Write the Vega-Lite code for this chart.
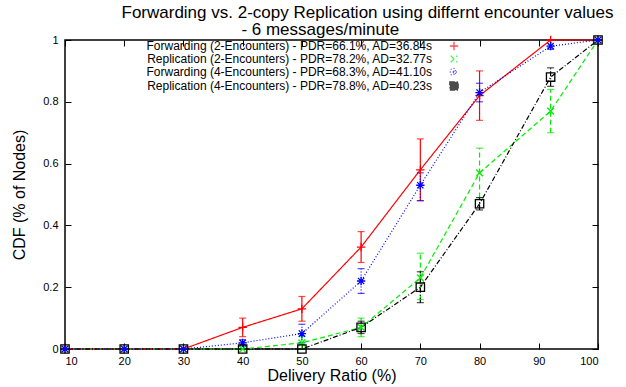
{
  "$schema": "https://vega.github.io/schema/vega-lite/v6.json",
  "width": 533,
  "height": 309,
  "autosize": "none",
  "padding": {"left": 65, "top": 40, "right": 28, "bottom": 38},
  "background": "white",
  "config": {
    "font": "Liberation Sans",
    "view": {"stroke": "black", "strokeWidth": 1.5},
    "axis": {"grid": false, "domain": false, "tickColor": "black", "tickSize": -6, "labelColor": "black", "titleColor": "black", "labelFont": "Liberation Sans", "titleFont": "Liberation Sans", "labelFontSize": 11, "titleFontSize": 16, "titleFontWeight": "normal"}
  },
  "title": {"text": ["Forwarding vs. 2-copy Replication using differnt encounter values", "- 6 messages/minute\u00a0\u00a0\u00a0\u00a0\u00a0\u00a0\u00a0\u00a0\u00a0\u00a0\u00a0\u00a0\u00a0\u00a0\u00a0\u00a0\u00a0\u00a0\u00a0\u00a0\u200b"], "fontSize": 17, "fontWeight": "normal", "font": "Liberation Sans", "lineHeight": 17, "offset": 5, "dx": 36, "dy": 11, "color": "black"},
  "data": {"values": [
    {"series": "Forwarding (2-Encounters) - PDR=66.1%, AD=36.84s", "x": 10, "y": 0, "lo": 0, "hi": 0},
    {"series": "Forwarding (2-Encounters) - PDR=66.1%, AD=36.84s", "x": 20, "y": 0, "lo": 0, "hi": 0},
    {"series": "Forwarding (2-Encounters) - PDR=66.1%, AD=36.84s", "x": 30, "y": 0, "lo": 0, "hi": 0},
    {"series": "Forwarding (2-Encounters) - PDR=66.1%, AD=36.84s", "x": 40, "y": 0.07, "lo": 0.04, "hi": 0.10},
    {"series": "Forwarding (2-Encounters) - PDR=66.1%, AD=36.84s", "x": 50, "y": 0.13, "lo": 0.09, "hi": 0.17},
    {"series": "Forwarding (2-Encounters) - PDR=66.1%, AD=36.84s", "x": 60, "y": 0.33, "lo": 0.28, "hi": 0.38},
    {"series": "Forwarding (2-Encounters) - PDR=66.1%, AD=36.84s", "x": 70, "y": 0.58, "lo": 0.48, "hi": 0.68},
    {"series": "Forwarding (2-Encounters) - PDR=66.1%, AD=36.84s", "x": 80, "y": 0.82, "lo": 0.74, "hi": 0.90},
    {"series": "Forwarding (2-Encounters) - PDR=66.1%, AD=36.84s", "x": 92, "y": 1.0, "lo": 1.0, "hi": 1.0},
    {"series": "Forwarding (2-Encounters) - PDR=66.1%, AD=36.84s", "x": 100, "y": 1.0, "lo": 1.0, "hi": 1.0},
    {"series": "Replication (2-Encounters) - PDR=78.2%, AD=32.77s", "x": 10, "y": 0, "lo": 0, "hi": 0},
    {"series": "Replication (2-Encounters) - PDR=78.2%, AD=32.77s", "x": 20, "y": 0, "lo": 0, "hi": 0},
    {"series": "Replication (2-Encounters) - PDR=78.2%, AD=32.77s", "x": 30, "y": 0, "lo": 0, "hi": 0},
    {"series": "Replication (2-Encounters) - PDR=78.2%, AD=32.77s", "x": 40, "y": 0, "lo": 0, "hi": 0},
    {"series": "Replication (2-Encounters) - PDR=78.2%, AD=32.77s", "x": 50, "y": 0.02, "lo": 0.0, "hi": 0.04},
    {"series": "Replication (2-Encounters) - PDR=78.2%, AD=32.77s", "x": 60, "y": 0.07, "lo": 0.04, "hi": 0.10},
    {"series": "Replication (2-Encounters) - PDR=78.2%, AD=32.77s", "x": 70, "y": 0.23, "lo": 0.16, "hi": 0.31},
    {"series": "Replication (2-Encounters) - PDR=78.2%, AD=32.77s", "x": 80, "y": 0.57, "lo": 0.49, "hi": 0.65},
    {"series": "Replication (2-Encounters) - PDR=78.2%, AD=32.77s", "x": 92, "y": 0.77, "lo": 0.70, "hi": 0.84},
    {"series": "Replication (2-Encounters) - PDR=78.2%, AD=32.77s", "x": 100, "y": 1.0, "lo": 1.0, "hi": 1.0},
    {"series": "Forwarding (4-Encounters) - PDR=68.3%, AD=41.10s", "x": 10, "y": 0, "lo": 0, "hi": 0},
    {"series": "Forwarding (4-Encounters) - PDR=68.3%, AD=41.10s", "x": 20, "y": 0, "lo": 0, "hi": 0},
    {"series": "Forwarding (4-Encounters) - PDR=68.3%, AD=41.10s", "x": 30, "y": 0, "lo": 0, "hi": 0},
    {"series": "Forwarding (4-Encounters) - PDR=68.3%, AD=41.10s", "x": 40, "y": 0.02, "lo": 0.01, "hi": 0.03},
    {"series": "Forwarding (4-Encounters) - PDR=68.3%, AD=41.10s", "x": 50, "y": 0.05, "lo": 0.02, "hi": 0.08},
    {"series": "Forwarding (4-Encounters) - PDR=68.3%, AD=41.10s", "x": 60, "y": 0.22, "lo": 0.18, "hi": 0.26},
    {"series": "Forwarding (4-Encounters) - PDR=68.3%, AD=41.10s", "x": 70, "y": 0.53, "lo": 0.48, "hi": 0.57},
    {"series": "Forwarding (4-Encounters) - PDR=68.3%, AD=41.10s", "x": 80, "y": 0.83, "lo": 0.80, "hi": 0.86},
    {"series": "Forwarding (4-Encounters) - PDR=68.3%, AD=41.10s", "x": 92, "y": 0.98, "lo": 0.97, "hi": 1.0},
    {"series": "Forwarding (4-Encounters) - PDR=68.3%, AD=41.10s", "x": 100, "y": 1.0, "lo": 1.0, "hi": 1.0},
    {"series": "Replication (4-Encounters) - PDR=78.8%, AD=40.23s", "x": 10, "y": 0, "lo": 0, "hi": 0},
    {"series": "Replication (4-Encounters) - PDR=78.8%, AD=40.23s", "x": 20, "y": 0, "lo": 0, "hi": 0},
    {"series": "Replication (4-Encounters) - PDR=78.8%, AD=40.23s", "x": 30, "y": 0, "lo": 0, "hi": 0},
    {"series": "Replication (4-Encounters) - PDR=78.8%, AD=40.23s", "x": 40, "y": 0, "lo": 0, "hi": 0},
    {"series": "Replication (4-Encounters) - PDR=78.8%, AD=40.23s", "x": 50, "y": 0, "lo": 0, "hi": 0},
    {"series": "Replication (4-Encounters) - PDR=78.8%, AD=40.23s", "x": 60, "y": 0.07, "lo": 0.05, "hi": 0.09},
    {"series": "Replication (4-Encounters) - PDR=78.8%, AD=40.23s", "x": 70, "y": 0.20, "lo": 0.15, "hi": 0.25},
    {"series": "Replication (4-Encounters) - PDR=78.8%, AD=40.23s", "x": 80, "y": 0.47, "lo": 0.45, "hi": 0.49},
    {"series": "Replication (4-Encounters) - PDR=78.8%, AD=40.23s", "x": 92, "y": 0.88, "lo": 0.85, "hi": 0.91},
    {"series": "Replication (4-Encounters) - PDR=78.8%, AD=40.23s", "x": 100, "y": 1.0, "lo": 1.0, "hi": 1.0}
  ]},
  "layer": [
    {
      "mark": {"type": "line", "strokeWidth": 1.2},
      "encoding": {
        "x": {"field": "x", "type": "quantitative", "scale": {"domain": [10, 100], "nice": false}, "axis": {"values": [10, 20, 30, 40, 50, 60, 70, 80, 90, 100], "title": "Delivery Ratio (%)", "titlePadding": 1, "labelPadding": 12}},
        "y": {"field": "y", "type": "quantitative", "scale": {"domain": [0, 1], "nice": false}, "axis": {"values": [0, 0.2, 0.4, 0.6, 0.8, 1], "format": "~g", "title": "CDF (% of Nodes)", "titlePadding": 15, "labelPadding": 13}},
        "color": {"field": "series", "type": "nominal", "scale": {"domain": ["Forwarding (2-Encounters) - PDR=66.1%, AD=36.84s", "Replication (2-Encounters) - PDR=78.2%, AD=32.77s", "Forwarding (4-Encounters) - PDR=68.3%, AD=41.10s", "Replication (4-Encounters) - PDR=78.8%, AD=40.23s"], "range": ["#ff0000", "#00ee00", "#0000ff", "#000000"]},
          "legend": {"title": null, "orient": "none", "legendX": 383, "legendY": 0, "padding": 0, "symbolSize": 70, "symbolStrokeWidth": 1.3, "labelAlign": "right", "labelOffset": -28, "labelFontSize": 12, "labelFont": "Liberation Sans", "labelColor": "black", "labelLimit": 400, "rowPadding": 0}},
        "strokeDash": {"field": "series", "type": "nominal", "scale": {"domain": ["Forwarding (2-Encounters) - PDR=66.1%, AD=36.84s", "Replication (2-Encounters) - PDR=78.2%, AD=32.77s", "Forwarding (4-Encounters) - PDR=68.3%, AD=41.10s", "Replication (4-Encounters) - PDR=78.8%, AD=40.23s"], "range": [[1, 0], [5, 3], [1, 2], [5, 2, 1, 2]]}, "legend": null}
      }
    },
    {
      "mark": {"type": "rule", "strokeWidth": 1.2},
      "encoding": {
        "x": {"field": "x", "type": "quantitative", "axis": null},
        "y": {"field": "lo", "type": "quantitative", "axis": null},
        "y2": {"field": "hi"},
        "color": {"field": "series", "type": "nominal"},
        "strokeDash": {"field": "series", "type": "nominal", "legend": null}
      }
    },
    {
      "mark": {"type": "tick", "orient": "horizontal", "size": 7, "thickness": 1.2},
      "encoding": {
        "x": {"field": "x", "type": "quantitative", "axis": null},
        "y": {"field": "lo", "type": "quantitative", "axis": null},
        "color": {"field": "series", "type": "nominal"}
      }
    },
    {
      "mark": {"type": "tick", "orient": "horizontal", "size": 7, "thickness": 1.2},
      "encoding": {
        "x": {"field": "x", "type": "quantitative", "axis": null},
        "y": {"field": "hi", "type": "quantitative", "axis": null},
        "color": {"field": "series", "type": "nominal"}
      }
    },
    {
      "mark": {"type": "point", "filled": false, "strokeWidth": 1.3, "size": 70, "opacity": 1},
      "encoding": {
        "x": {"field": "x", "type": "quantitative", "axis": null},
        "y": {"field": "y", "type": "quantitative", "axis": null},
        "shape": {"field": "series", "type": "nominal", "legend": null, "scale": {"domain": ["Forwarding (2-Encounters) - PDR=66.1%, AD=36.84s", "Replication (2-Encounters) - PDR=78.2%, AD=32.77s", "Forwarding (4-Encounters) - PDR=68.3%, AD=41.10s", "Replication (4-Encounters) - PDR=78.8%, AD=40.23s"], "range": ["M-1,0L1,0M0,-1L0,1", "M-0.8,-0.8L0.8,0.8M-0.8,0.8L0.8,-0.8", "M-1,0L1,0M0,-1L0,1M-0.75,-0.75L0.75,0.75M-0.75,0.75L0.75,-0.75", "square"]}},
        "color": {"field": "series", "type": "nominal"}
      }
    },
    {
      "mark": {"type": "point", "opacity": 0},
      "encoding": {
        "y": {"field": "y", "type": "quantitative", "axis": {"orient": "right", "labels": false, "title": null, "values": [0, 0.2, 0.4, 0.6, 0.8, 1]}},
        "x": {"field": "x", "type": "quantitative", "axis": {"orient": "top", "labels": false, "title": null, "values": [10, 20, 30, 40, 50, 60, 70, 80, 90, 100]}}
      }
    }
  ],
  "resolve": {"axis": {"x": "independent", "y": "independent"}}
}
